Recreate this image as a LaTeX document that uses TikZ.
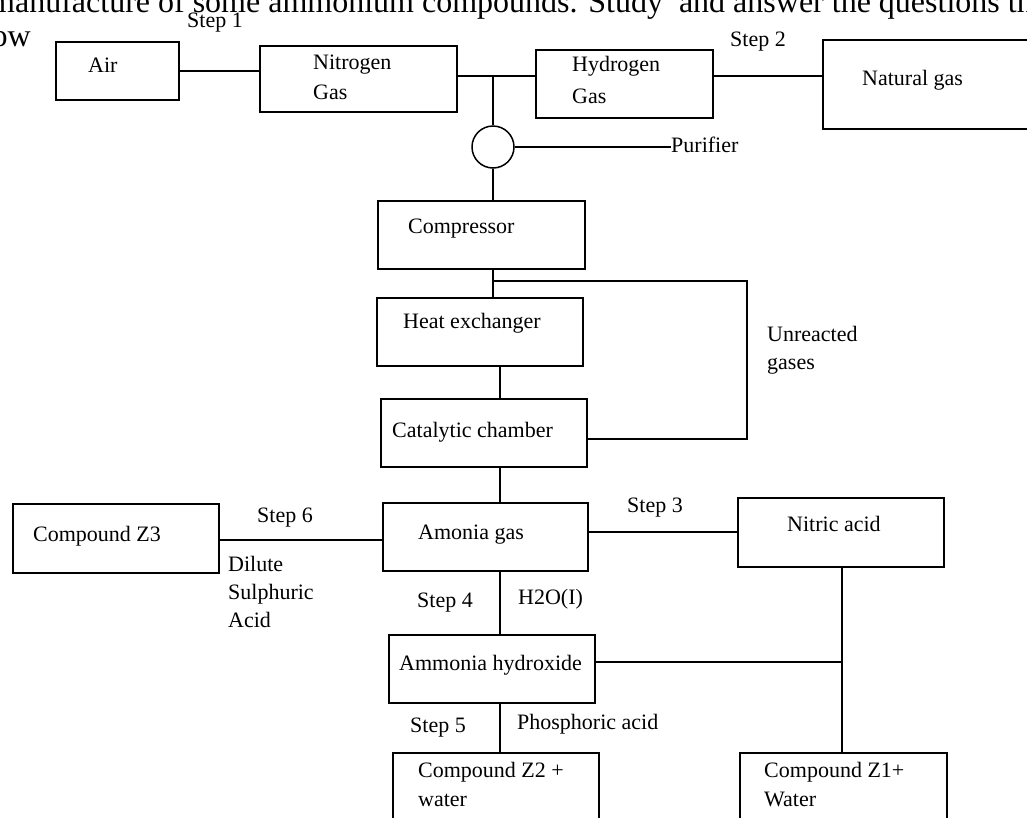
\documentclass[tikz,border=0pt]{standalone}
\usepackage{fontspec}
\setmainfont{Liberation Serif}
\usetikzlibrary{positioning}

\newcommand\chartfont{\fontsize{22}{28}\selectfont}
\newcommand\headfont{\fontsize{32}{34}\selectfont}

\begin{document}
\begin{tikzpicture}[
  x=1pt, y=-1pt,
  box/.style={rectangle, draw, line width=1.5pt, anchor=north west, inner sep=0pt},
  txt/.style={font=\chartfont, inner sep=0pt, anchor=base west, align=left},
  line/.style={line width=1.5pt}
]
\useasboundingbox (0,0) rectangle (1027,817);
\clip (0,0) rectangle (1027,817);

% heading of the page, cut by the frame
\node[font=\headfont, inner sep=0pt, anchor=base west] (head1) at (-10,12)
      {manufacture of some ammonium compounds. Study\ \ and answer the questions that};
\node[font=\headfont, inner sep=0pt, anchor=base east] (head2) at (31,46) {follow};

% boxes
\node[box, minimum width=123, minimum height=58] (air)    at (55,41)  {};
\node[box, minimum width=197, minimum height=66] (nitro)  at (259,45) {};
\node[box, minimum width=177, minimum height=68] (hydro)  at (535,49) {};
\node[box, minimum width=218, minimum height=89] (natgas) at (822,39) {};
\node[box, minimum width=207, minimum height=68] (comp)   at (377,200) {};
\node[box, minimum width=206, minimum height=68] (heat)   at (376,297) {};
\node[box, minimum width=206, minimum height=68] (cat)    at (380,398) {};
\node[box, minimum width=205, minimum height=68] (amonia) at (382,502) {};
\node[box, minimum width=206, minimum height=69] (z3)     at (12,503) {};
\node[box, minimum width=206, minimum height=69] (nitric) at (737,497) {};
\node[box, minimum width=206, minimum height=68] (hydrox) at (388,634) {};
\node[box, minimum width=206, minimum height=80] (z2)     at (392,752) {};
\node[box, minimum width=207, minimum height=80] (z1)     at (739,752) {};
\node[circle, draw, line width=1.5pt, minimum size=42, inner sep=0pt] (pur) at (493,147) {};

% box texts (base = last line)
\node[txt] (air-t)    at (88,72)   {Air};
\node[txt, font=\fontsize{22}{30}\selectfont] (nitro-t) at (313,99) {Nitrogen\\Gas};
\node[txt, font=\fontsize{22}{32}\selectfont] (hydro-t) at (572,103) {Hydrogen\\Gas};
\node[txt] (natgas-t) at (862,85)  {Natural gas};
\node[txt] (comp-t)   at (408,233) {Compressor};
\node[txt] (heat-t)   at (403,328) {Heat exchanger};
\node[txt] (cat-t)    at (392,437) {Catalytic chamber};
\node[txt] (amonia-t) at (418,539) {Amonia gas};
\node[txt] (z3-t)     at (33,541)  {Compound Z3};
\node[txt] (nitric-t) at (787,531) {Nitric acid};
\node[txt] (hydrox-t) at (399,670) {Ammonia hydroxide};
\node[txt, font=\fontsize{22}{29}\selectfont] (z2-t) at (418,806) {Compound Z2 +\\water};
\node[txt, font=\fontsize{22}{29}\selectfont] (z1-t) at (764,806) {Compound Z1+\\Water};

% labels on the lines
\node[txt] (step1)  at (187,27)  {Step 1};
\node[txt] (step2)  at (730,46)  {Step 2};
\node[txt] (purlbl) at (671,152) {Purifier};
\node[txt] (unreac) at (767,369) {Unreacted\\gases};
\node[txt] (step6)  at (257,522) {Step 6};
\node[txt] (dilute) at (228,627) {Dilute\\Sulphuric\\Acid};
\node[txt] (step3)  at (627,512) {Step 3};
\node[txt] (step4)  at (417,607) {Step 4};
\node[txt] (water)  at (518,604) {H2O(I)};
\node[txt] (step5)  at (410,732) {Step 5};
\node[txt] (phos)   at (517,729) {Phosphoric acid};

% joints
\coordinate (j1) at (493,76);
\coordinate (j2) at (493,281);
\coordinate (lp) at (747,439);
\coordinate (j3) at (842,662);
\coordinate (xc) at (500,0);
\coordinate (y6) at (0,540);
\coordinate (y3) at (0,532);

% connectors
\draw[line] (air.east) -- (air.east -| nitro.west);
\draw[line] (j1 -| nitro.east) -- (j1 -| hydro.west);
\draw[line] (j1 -| hydro.east) -- (j1 -| natgas.west);
\draw[line] (j1) -- (pur.north);
\draw[line] (pur.east) -- (purlbl.west |- pur.east);
\draw[line] (pur.south) -- (pur.south |- comp.north);
\draw[line] (pur.south |- comp.south) -- (pur.south |- heat.north);
\draw[line] (j2) -| (lp) -- (lp -| cat.east);
\draw[line] (heat.south -| xc) -- (cat.north -| xc);
\draw[line] (cat.south -| xc) -- (amonia.north -| xc);
\draw[line] (z3.east |- y6) -- (amonia.west |- y6);
\draw[line] (amonia.east |- y3) -- (nitric.west |- y3);
\draw[line] (amonia.south -| xc) -- (hydrox.north -| xc);
\draw[line] (hydrox.south -| xc) -- (z2.north -| xc);
\draw[line] (nitric.south -| j3) -- (z1.north -| j3);
\draw[line] (hydrox.east |- j3) -- (j3);
\end{tikzpicture}
\end{document}
